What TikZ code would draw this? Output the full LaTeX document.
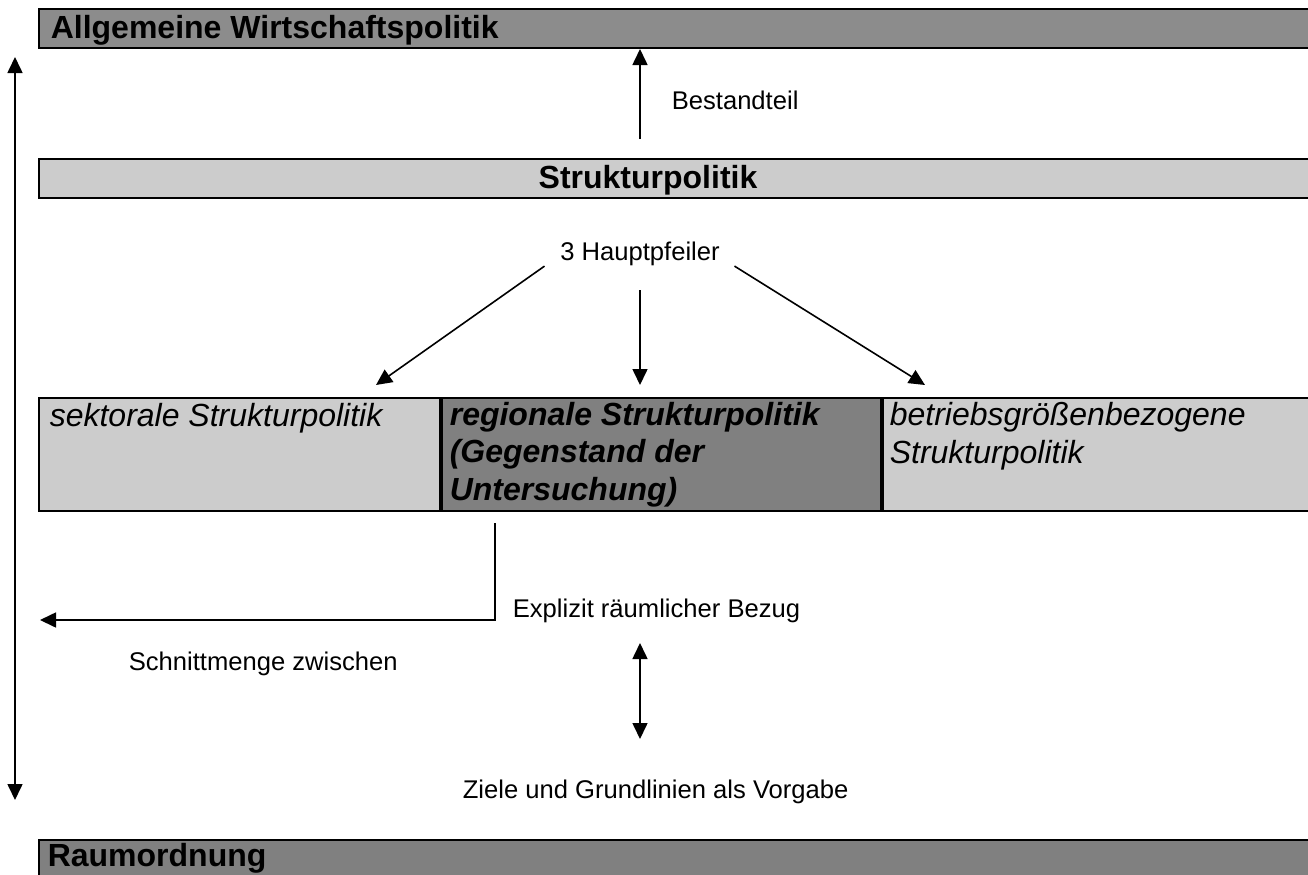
\documentclass[tikz,border=0pt]{standalone}
\usepackage{fontspec}
\setmainfont{Liberation Sans}
\usetikzlibrary{arrows.meta, positioning}
\definecolor{darkfill}{HTML}{8C8C8C}
\definecolor{midfill}{HTML}{808080}
\definecolor{lightfill}{HTML}{CCCCCC}
\tikzstyle{bar}=[draw,rectangle,line width=1pt,anchor=north west,inner sep=0pt]
\tikzstyle{headtext}=[font=\fontsize{16}{19}\selectfont\bfseries,inner sep=0pt]
\tikzstyle{boxtext}=[font=\fontsize{16}{18.75}\selectfont\itshape,align=left,anchor=base west,inner sep=0pt]
\tikzstyle{boldboxtext}=[boxtext,font=\fontsize{16}{18.75}\selectfont\bfseries\itshape]
\tikzstyle{note}=[font=\fontsize{12.8}{15}\selectfont,inner sep=0pt]

\begin{document}
\begin{tikzpicture}[x=0.5pt,y=-0.5pt,>={Triangle[length=8pt,width=7.5pt]},line width=0.8pt]
  \useasboundingbox (0,0) rectangle (1308,874);
  \node[bar,fill=darkfill,minimum width=637pt,minimum height=19.5pt] (allg) at (38,8) {};
  \node[bar,fill=lightfill,minimum width=637pt,minimum height=19.5pt] (struk) at (38,158) {};
  \node[bar,fill=lightfill,minimum width=200.5pt,minimum height=56.5pt] (sekt) at (38,397) {};
  \node[bar,fill=midfill,minimum width=219.5pt,minimum height=56.5pt] (regio) at (sekt.north east) {};
  \node[bar,fill=lightfill,minimum width=217pt,minimum height=56.5pt] (betr) at (regio.north east) {};
  \node[bar,fill=midfill,minimum width=637pt,minimum height=25pt] (raum) at (38,839) {};

  % multi-line texts sit on their last baseline
  \node[headtext,anchor=base west] (allgtext) at (50,38) {Allgemeine Wirtschaftspolitik};
  \node[headtext,anchor=base] (struktext) at (648,188) {Strukturpolitik};
  \node[headtext,anchor=base west] (raumtext) at (47,866) {Raumordnung};
  \node[boxtext] (sekttext) at (49,426) {sektorale Strukturpolitik};
  \node[boldboxtext] (regiotext) at (449,500) {regionale Strukturpolitik\\(Gegenstand der\\Untersuchung)};
  \node[boxtext] (betrtext) at (889,463) {betriebsgrößenbezogene\\Strukturpolitik};

  \node[note,anchor=base west] (bestand) at (671,109) {Bestandteil};
  \node[note,anchor=base] (haupt) at (640,260) {3 Hauptpfeiler};
  \node[note,anchor=base west] (bezug) at (512,617) {Explizit räumlicher Bezug};
  \node[note,anchor=base west] (schnitt) at (128,670) {Schnittmenge zwischen};
  \node[note,anchor=base west] (ziele) at (462,798) {Ziele und Grundlinien als Vorgabe};

  \coordinate (bestandfuss) at (640,139);
  \coordinate (pfeilL) at (376,385);
  \coordinate (pfeilM) at (640,385);
  \coordinate (pfeilR) at (925,385);
  \coordinate (bezugfuss) at (495,523);
  \coordinate (schnittend) at (40,620);
  \coordinate (vorgabeO) at (640,643);
  \coordinate (vorgabeU) at (640,739);
  \coordinate (linksO) at (15,57);
  \coordinate (linksU) at (15,800);

  \draw[->] (bestandfuss) -- (bestandfuss |- allg.south);
  \draw[->] ([xshift=-7.5pt]haupt.south west) -- (pfeilL);
  \draw[->] ([yshift=-12pt]haupt.south) -- (pfeilM);
  \draw[->] ([xshift=7pt]haupt.south east) -- (pfeilR);
  \draw[->] (bezugfuss) |- (schnittend);
  \draw[<->] (vorgabeO) -- (vorgabeU);
  \draw[<->] (linksO) -- (linksU);
\end{tikzpicture}
\end{document}
